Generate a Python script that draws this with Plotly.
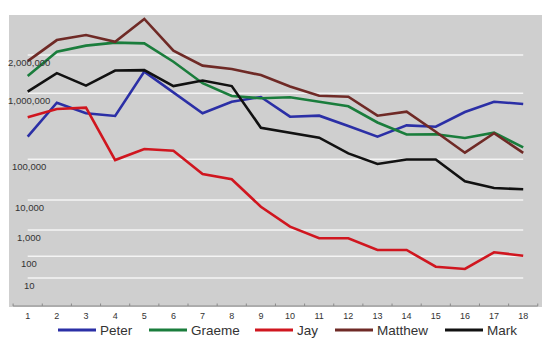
import numpy as np
import plotly.graph_objects as go

# ---------------- data ----------------
categories = list(range(1, 19))
peter   = [220000, 720000, 498000, 453000, 1480000, 1010000, 498000, 746000, 879000,
           442000, 458000, 320000, 220000, 327000, 312000, 521000, 746000, 688000]
graeme  = [1370000, 2120000, 2370000, 2500000, 2470000, 1770000, 1200000, 910000, 840000,
           870000, 746000, 635000, 361000, 238000, 240000, 210000, 253000, 152000]
jay     = [433000, 578000, 605000, 96000, 143000, 135000, 43500, 32300, 5980,
           1290, 483, 483, 174, 174, 33, 26, 142, 105]
matthew = [1790000, 2620000, 2870000, 2540000, 3840000, 2160000, 1650000, 1550000, 1390000,
           1130000, 920000, 888000, 458000, 526000, 262000, 126000, 248000, 125000]
mark    = [1030000, 1440000, 1150000, 1510000, 1520000, 1140000, 1260000, 1140000, 301000,
           253000, 213000, 123000, 76700, 98900, 98900, 28800, 19700, 18400]
series_names = ["Peter", "Graeme", "Jay", "Matthew", "Mark"]
y_tick_values = [10, 100, 1000, 10000, 100000, 1000000, 2000000]
y_tick_labels = ["10", "100", "1,000", "10,000", "100,000", "1,000,000", "2,000,000"]

# ---------------- styling / scale ----------------
colors = ["#2b2fa6", "#1a7d3c", "#d0161f", "#6f2a26", "#111111"]
W, H = 550, 340
L, R, T, B = 9, 542, 15, 307          # plot area in pixels
PW, PH = R - L, B - T

# the chart's value axis is a non-uniform log scale: heights (px above the
# plot bottom) at which each labelled value sits
knot_heights = [29, 50.7, 77, 107, 147.7, 213.7, 252]
knot_logs = np.log10(y_tick_values)


def scale(v):
    lv = np.log10(np.asarray(v, dtype=float))
    h = np.interp(lv, knot_logs, knot_heights)
    slope = (knot_heights[-1] - knot_heights[-2]) / (knot_logs[-1] - knot_logs[-2])
    h = np.where(lv > knot_logs[-1], knot_heights[-1] + (lv - knot_logs[-1]) * slope, h)
    return h


def px(x):
    return (x - L) / PW


def py(y):
    return (B - y) / PH


x_lo = 1 - (27.7 - L) / 29.15
x_hi = 18 + (R - 523.2) / 29.15

fig = go.Figure()
all_series = [peter, graeme, jay, matthew, mark]
for name, vals, col in zip(series_names, all_series, colors):
    fig.add_trace(go.Scatter(x=categories, y=scale(vals), mode="lines", name=name,
                             line=dict(color=col, width=2.6), showlegend=False,
                             hoverinfo="skip"))

shapes = []
annotations = []
grid_h = scale(y_tick_values)
for h, lab in zip(grid_h, y_tick_labels):
    shapes.append(dict(type="line", xref="x", yref="y", x0=1, x1=18, y0=h, y1=h,
                       line=dict(color="#f4f4f4", width=1.6), layer="below"))
    annotations.append(dict(xref="paper", yref="y", x=px(29), y=h - 7, text=lab,
                            showarrow=False, xanchor="center", yanchor="middle",
                            font=dict(family="Liberation Sans, Arial", size=9.5, color="#333333")))

# bottom axis line and tick marks
shapes.append(dict(type="line", xref="x", yref="paper", x0=0.5, x1=18.5, y0=py(306), y1=py(306),
                   line=dict(color="#8a8a8a", width=1)))
for i in range(19):
    shapes.append(dict(type="line", xref="x", yref="paper", x0=i + 0.5, x1=i + 0.5,
                       y0=py(306), y1=py(303.5), line=dict(color="#8a8a8a", width=1)))

# legend
legend_x = [58, 149, 255, 335, 445]
for name, col, x0 in zip(series_names, colors, legend_x):
    shapes.append(dict(type="line", xref="paper", yref="paper", x0=px(x0), x1=px(x0 + 38),
                       y0=py(330), y1=py(330), line=dict(color=col, width=3)))
    annotations.append(dict(xref="paper", yref="paper", x=px(x0 + 40), y=py(331), text=name,
                            showarrow=False, xanchor="left", yanchor="middle",
                            font=dict(family="Liberation Sans, Arial", size=13.5, color="#333333")))

fig.update_layout(
    width=W, height=H,
    margin=dict(l=L, r=W - R, t=T, b=H - B, pad=0),
    paper_bgcolor="white", plot_bgcolor="#cfcfcf",
    showlegend=False,
    shapes=shapes, annotations=annotations,
    xaxis=dict(range=[x_lo, x_hi], tickmode="array", tickvals=categories,
               ticktext=[str(c) for c in categories], showgrid=False, zeroline=False,
               showline=False, ticks="", ticklabelstandoff=2,
               tickfont=dict(family="Liberation Sans, Arial", size=9, color="#333333")),
    yaxis=dict(range=[0, PH], showgrid=False, zeroline=False, showticklabels=False,
               showline=False, ticks=""),
)

fig.write_html("out.html")
